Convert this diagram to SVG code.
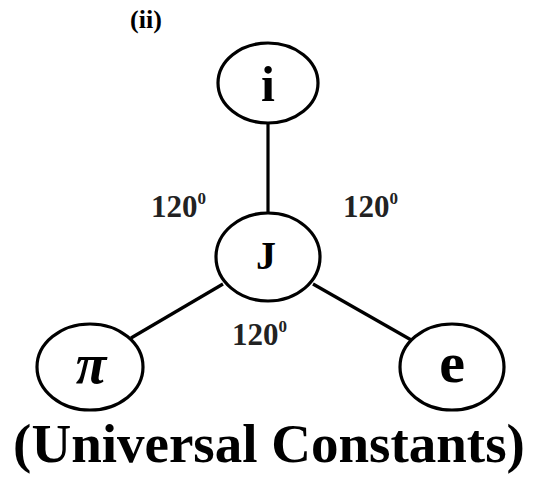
<svg xmlns="http://www.w3.org/2000/svg" width="538" height="481" viewBox="0 0 538 481">
<style>
.n{fill:#fff;stroke:#000;stroke-width:3.2}
.c{stroke:#000;stroke-width:3.2;fill:none}
.t{font-family:"Liberation Serif","Times New Roman",serif;font-weight:bold;fill:#000;text-anchor:middle}
.a{font-family:"Liberation Serif","Times New Roman",serif;font-weight:bold;fill:#222;font-size:31px}
.s{font-size:17px}
</style>
<rect width="538" height="481" fill="#fff"/>
<text class="t" x="146" y="28" font-size="26">(ii)</text>
<g id="connectors">
<line class="c" x1="268" y1="122" x2="268" y2="214"/>
<line class="c" x1="223" y1="284" x2="131" y2="338"/>
<line class="c" x1="313" y1="284" x2="413" y2="341"/>
</g>
<g id="node-i">
<ellipse class="n" cx="268" cy="83" rx="50" ry="40"/>
<text class="t" x="268" y="101" font-size="50">i</text>
</g>
<g id="node-J">
<ellipse class="n" cx="268" cy="257" rx="52" ry="44"/>
<text class="t" x="266" y="269" font-size="40">J</text>
</g>
<g id="node-pi">
<ellipse class="n" cx="90" cy="367" rx="53" ry="43"/>
<text class="t" x="91" y="383" font-size="56" font-style="italic">π</text>
</g>
<g id="node-e">
<ellipse class="n" cx="452" cy="367" rx="52" ry="43"/>
<text class="t" x="452" y="382" font-size="58">e</text>
</g>
<g id="labels">
<text class="a" x="151" y="217">120<tspan class="s" dy="-13">0</tspan></text>
<text class="a" x="343" y="217">120<tspan class="s" dy="-13">0</tspan></text>
<text class="a" x="232" y="345">120<tspan class="s" dy="-13">0</tspan></text>
</g>
<text class="t" x="269" y="462" font-size="55">(Universal Constants)</text>
</svg>
